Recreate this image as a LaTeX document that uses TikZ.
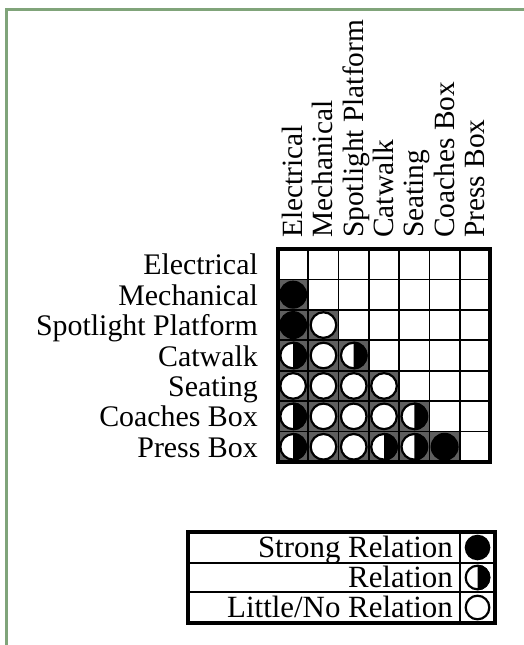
\documentclass[tikz,border=0pt]{standalone}
\usepackage{fontspec}
\setmainfont{Liberation Serif}
\definecolor{framegreen}{RGB}{128,164,122}
\definecolor{cellgray}{RGB}{95,95,95}
\begin{document}
\begin{tikzpicture}[x=1bp,y=-1bp,
  rowlbl/.style={font=\fontsize{30}{30}\selectfont, inner sep=0pt, anchor=base east},
  collbl/.style={font=\fontsize{29.5}{29.5}\selectfont, inner sep=0pt, anchor=base west, rotate=90},
  leglbl/.style={font=\fontsize{31}{31}\selectfont, inner sep=0pt, anchor=base east},
  gridline/.style={line width=1.8bp, draw=black},
  outerline/.style={line width=3.5bp, draw=black},
  symline/.style={line width=2.2bp, draw=black}]
\useasboundingbox (0,0) rectangle (524,645);
\fill[white] (0,0) rectangle (524,645);
\draw[framegreen, line width=3bp] (6,650) -- (6,10) -- (530,10);

\def\xo{278}\def\yo{249}\def\cw{30.29}\def\ch{30.43}

% gray backgrounds of cells carrying symbols
\foreach \r/\c in {2/1,3/1,3/2,4/1,4/2,4/3,5/1,5/2,5/3,5/4,6/1,6/2,6/3,6/4,6/5,7/1,7/2,7/3,7/4,7/5,7/6}
  \fill[cellgray] ({\xo+(\c-1)*\cw},{\yo+(\r-1)*\ch}) rectangle ++(\cw,\ch);

% grid
\foreach \i in {1,...,6} {
  \draw[gridline] ({\xo+\i*\cw},\yo) -- ({\xo+\i*\cw},{\yo+7*\ch});
  \draw[gridline] (\xo,{\yo+\i*\ch}) -- ({\xo+7*\cw},{\yo+\i*\ch});
}
\draw[outerline] (\xo,\yo) rectangle ({\xo+7*\cw},{\yo+7*\ch});

% symbols
\foreach \r/\c in {2/1,3/1,7/6}
  \fill[black] ({\xo+(\c-0.5)*\cw},{\yo+(\r-0.5)*\ch}) circle (14bp);
\foreach \r/\c in {3/2,4/2,5/1,5/2,5/3,5/4,6/2,6/3,6/4,7/2,7/3}
  \filldraw[symline, fill=white] ({\xo+(\c-0.5)*\cw},{\yo+(\r-0.5)*\ch}) circle (12.8bp);
\foreach \r/\c in {4/1,4/3,6/1,6/5,7/1,7/4,7/5} {
  \filldraw[symline, fill=white] ({\xo+(\c-0.5)*\cw},{\yo+(\r-0.5)*\ch}) circle (12.8bp);
  \begin{scope}
    \clip ({\xo+(\c-0.5)*\cw},{\yo+(\r-0.5)*\ch-15}) rectangle ++(15,30);
    \fill[black] ({\xo+(\c-0.5)*\cw},{\yo+(\r-0.5)*\ch}) circle (13.9bp);
  \end{scope}
}

% row labels
\foreach \t [count=\r] in {Electrical,Mechanical,Spotlight Platform,Catwalk,Seating,Coaches Box,Press Box}
  \node[rowlbl] (row\r) at (258,{\yo+(\r-0.5)*\ch+10.5}) {\t};

% column labels
\foreach \t [count=\c] in {Electrical,Mechanical,Spotlight Platform,Catwalk,Seating,Coaches Box,Press Box}
  \node[collbl] (col\c) at ({\xo+(\c-0.5)*\cw+9.5},238) {\t};

% legend
\draw[gridline, line width=1.5bp] (188,563) -- (495,563);
\draw[gridline, line width=1.5bp] (188,592) -- (495,592);
\draw[gridline, line width=2bp] (460,532) -- (460,623);
\draw[outerline] (188,532) rectangle (495,623);
\node[leglbl] (legA) at (453,557.5) {Strong Relation};
\node[leglbl] (legB) at (453,587.5) {Relation};
\node[leglbl] (legC) at (453,617) {Little/No Relation};
\fill[black] (477.5,547.5) circle (12.8bp);
\filldraw[symline, fill=white] (477.5,577.5) circle (11.8bp);
\begin{scope}
  \clip (477.5,563) rectangle (492,592);
  \fill[black] (477.5,577.5) circle (12.8bp);
\end{scope}
\filldraw[symline, fill=white] (477.5,607.5) circle (11.8bp);
\end{tikzpicture}
\end{document}
